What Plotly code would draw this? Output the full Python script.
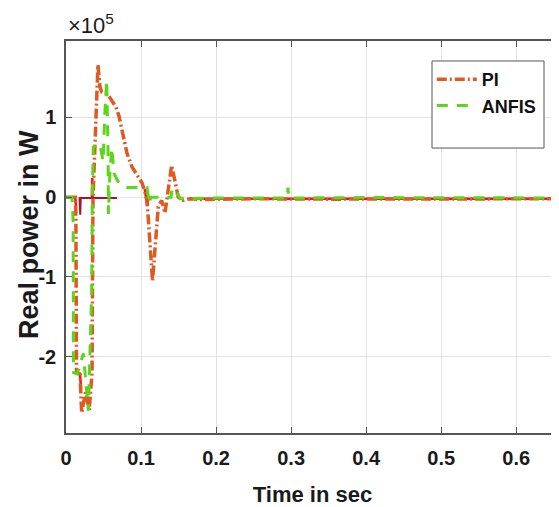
import plotly.graph_objects as go

# ---- data (time in s, power in W) ----
pi_t = [0, 0.0125, 0.0132, 0.0140, 0.0187, 0.0209, 0.0260, 0.0310, 0.0347, 0.0360,
        0.0426, 0.0453, 0.0476, 0.0564, 0.0666, 0.0706, 0.0733, 0.0760, 0.0813, 0.0880,
        0.0946, 0.1013, 0.1053, 0.1080, 0.1153, 0.1230, 0.1275, 0.1319, 0.1408, 0.1496,
        0.1563, 0.1652, 0.1800, 0.2500, 0.3500, 0.4500, 0.5500, 0.6570]
pi_p = [0, 0, -0.3e5, -2.2e5, -2.22e5, -2.71e5, -2.45e5, -2.67e5, -2.2e5, 0.0,
        1.66e5, 1.38e5, 1.32e5, 1.28e5, 1.13e5, 1.02e5, 0.90e5, 0.78e5, 0.55e5, 0.38e5,
        0.28e5, 0.18e5, 0.06e5, -0.04e5, -1.05e5, -0.12e5, -0.04e5, -0.20e5, 0.40e5, 0.0,
        -0.04e5, -0.02e5, -0.03e5, -0.02e5, -0.025e5, -0.02e5, -0.02e5, -0.02e5]

anfis_t = [0, 0.0080, 0.0095, 0.0100, 0.0150, 0.0231, 0.0298, 0.0342, 0.0350, 0.0364,
           0.0450, 0.0495, 0.0515, 0.0542, 0.0560, 0.0565, 0.0585, 0.0610, 0.0640, 0.0690,
           0.0760, 0.0820, 0.1080, 0.1100, 0.1110, 0.1130, 0.1400, 0.1410, 0.1430, 0.1490,
           0.1520, 0.2000, 0.2950, 0.2958, 0.2970, 0.4000, 0.5000, 0.6570]
anfis_p = [0, 0, -0.3e5, -2.2e5, -2.22e5, -1.96e5, -2.68e5, -1.2e5, 0.0, 0.63e5,
           0.67e5, 0.45e5, 1.0e5, 1.47e5, 0.6e5, -0.21e5, 0.3e5, 0.62e5, 0.3e5, 0.2e5,
           0.14e5, 0.12e5, 0.12e5, 0.0, -0.08e5, 0.0, 0.0, 0.08e5, 0.0, 0.04e5,
           -0.02e5, -0.01e5, -0.01e5, 0.12e5, -0.01e5, -0.005e5, -0.01e5, -0.01e5]

ref_t = [0, 0.0120, 0.0130, 0.0134, None, 0.0125, 0.0150, 0.0187, 0.0200, None,
         0.0345, 0.0350, 0.0356, None, 0.1050, 0.1080, 0.1100, None, 0.1700, 0.2500,
         0.3500, 0.4500, 0.5500, 0.6500]
ref_p = [0, 0, -0.05e5, -0.2e5, None, -2.2e5, -2.2e5, -2.22e5, -2.4e5, None,
         0.0, 0.24e5, 0.0, None, 0.1e5, -0.1e5, -0.02e5, None, -0.02e5, -0.02e5,
         -0.02e5, -0.02e5, -0.02e5, -0.02e5]

aux_t = [0.0180, 0.0190, 0.0196, 0.0210, 0.0680, None, 0.6500, 0.6515, 0.6525, 0.6540, 0.6570]
aux_p = [0, -0.22e5, -0.01e5, -0.01e5, -0.01e5, None, -0.02e5, 0.10e5, -0.02e5, 0.06e5, 0.0]

x_ticks = [0, 0.1, 0.2, 0.3, 0.4, 0.5, 0.6]
x_labels = ["0", "0.1", "0.2", "0.3", "0.4", "0.5", "0.6"]
y_ticks = [-2e5, -1e5, 0, 1e5]
y_labels = ["-2", "-1", "0", "1"]

FONT = "Liberation Sans, Arial, sans-serif"
TXT = "#1a1a1a"

fig = go.Figure()
fig.add_trace(go.Scatter(x=ref_t, y=ref_p, mode="lines", showlegend=False,
                         line=dict(color="#FF1010", width=2.5), hoverinfo="skip"))
fig.add_trace(go.Scatter(x=aux_t, y=aux_p, mode="lines", showlegend=False,
                         line=dict(color="#A2142F", width=2), hoverinfo="skip"))
fig.add_trace(go.Scatter(x=pi_t, y=pi_p, mode="lines", name="PI",
                         line=dict(color="#DE5A22", width=3.5, dash="10px,3px,2px,3px")))
fig.add_trace(go.Scatter(x=anfis_t, y=anfis_p, mode="lines", name="ANFIS",
                         line=dict(color="#5CD61A", width=3, dash="11px,9px")))

axis_common = dict(
    showgrid=True, gridcolor="#E3E3E3", gridwidth=1,
    showline=True, linecolor="#555555", linewidth=1.5,
    ticks="inside", ticklen=6, tickcolor="#555555", tickwidth=1,
    zeroline=False,
    tickfont=dict(family=FONT, size=20, color=TXT, weight="bold"),
)

fig.update_xaxes(range=[0, 0.6570], tickvals=x_ticks, ticktext=x_labels, mirror="ticks",
                 ticklabelstandoff=6,
                 title=dict(text="Time in sec", standoff=19,
                            font=dict(family=FONT, size=22, color=TXT, weight="bold")),
                 **axis_common)
fig.update_yaxes(range=[-2.96e5, 1.96e5], tickvals=y_ticks, ticktext=y_labels, mirror=False,
                 ticklabelstandoff=4,
                 **axis_common)

# y-axis title (placed as rotated text to match the reference position)
fig.add_annotation(text="<b>Real power in W</b>", xref="paper", yref="paper",
                   x=-0.075, y=0.505, xanchor="center", yanchor="middle",
                   textangle=-90, showarrow=False,
                   font=dict(family=FONT, size=27, color=TXT))

fig.add_annotation(text="×10<sup>5</sup>", xref="paper", yref="paper", x=0.0, y=1.003,
                   xanchor="left", yanchor="bottom", showarrow=False,
                   font=dict(family=FONT, size=22, color=TXT))

# legend frame
fig.add_shape(type="rect", xref="paper", yref="paper",
              x0=0.7424, x1=0.9696, y0=0.727, y1=0.949,
              line=dict(color="#555555", width=1), fillcolor="white", layer="above")

fig.update_layout(
    width=551, height=499,
    margin=dict(l=58, r=0, t=33, b=74),
    paper_bgcolor="white", plot_bgcolor="white",
    legend=dict(x=0.742, y=0.949, xanchor="left", yanchor="top",
                bgcolor="rgba(0,0,0,0)", borderwidth=0,
                font=dict(family=FONT, size=18, color="#111111", weight="bold"),
                itemwidth=40),
)

fig.write_html("out.html")
